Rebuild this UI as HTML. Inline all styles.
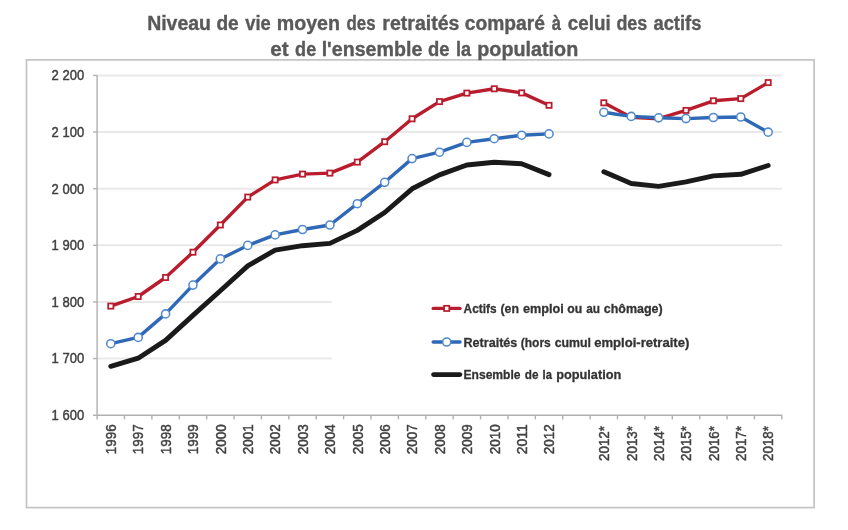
<!DOCTYPE html>
<html><head><meta charset="utf-8"><style>
html,body{margin:0;padding:0;background:#fff;width:848px;height:530px;overflow:hidden}
svg{display:block}
text{font-family:"Liberation Sans",sans-serif}
.yl{font-size:14.3px;fill:#404040;stroke:#404040;stroke-width:0.45px}
.xl{font-size:14.1px;fill:#404040;stroke:#404040;stroke-width:0.45px}
.lg{font-size:13.2px;font-weight:bold;fill:#333333;stroke:#333333;stroke-width:0.3px}
.tt{font-size:19.4px;font-weight:bold;fill:#595959;stroke:#595959;stroke-width:0.35px}
</style></head><body>
<svg width="848" height="530" viewBox="0 0 848 530"><defs><filter id="f" x="0" y="0" width="848" height="530" filterUnits="userSpaceOnUse"><feOffset dx="0" dy="0"/></filter></defs><g filter="url(#f)">
<rect x="26.5" y="59.9" width="787.6" height="447.7" fill="#fff" stroke="#c4c4c4" stroke-width="1.7"/>
<line x1="97.1" y1="75.40" x2="782" y2="75.40" stroke="#eae9e9" stroke-width="2"/>
<line x1="97.1" y1="132.03" x2="782" y2="132.03" stroke="#eae9e9" stroke-width="2"/>
<line x1="97.1" y1="188.66" x2="782" y2="188.66" stroke="#eae9e9" stroke-width="2"/>
<line x1="97.1" y1="245.29" x2="782" y2="245.29" stroke="#eae9e9" stroke-width="2"/>
<line x1="97.1" y1="301.92" x2="331.7" y2="301.92" stroke="#eae9e9" stroke-width="2"/>
<line x1="97.1" y1="358.55" x2="331.7" y2="358.55" stroke="#eae9e9" stroke-width="2"/>
<line x1="97.1" y1="75.40" x2="97.1" y2="419.38" stroke="#b0b0b0" stroke-width="1.4"/>
<line x1="93.1" y1="415.18" x2="782" y2="415.18" stroke="#b0b0b0" stroke-width="1.4"/>
<line x1="93.1" y1="75.40" x2="97.1" y2="75.40" stroke="#b0b0b0" stroke-width="1.4"/>
<line x1="93.1" y1="132.03" x2="97.1" y2="132.03" stroke="#b0b0b0" stroke-width="1.4"/>
<line x1="93.1" y1="188.66" x2="97.1" y2="188.66" stroke="#b0b0b0" stroke-width="1.4"/>
<line x1="93.1" y1="245.29" x2="97.1" y2="245.29" stroke="#b0b0b0" stroke-width="1.4"/>
<line x1="93.1" y1="301.92" x2="97.1" y2="301.92" stroke="#b0b0b0" stroke-width="1.4"/>
<line x1="93.1" y1="358.55" x2="97.1" y2="358.55" stroke="#b0b0b0" stroke-width="1.4"/>
<line x1="124.49" y1="415.18" x2="124.49" y2="419.38" stroke="#b0b0b0" stroke-width="1.4"/>
<line x1="151.88" y1="415.18" x2="151.88" y2="419.38" stroke="#b0b0b0" stroke-width="1.4"/>
<line x1="179.27" y1="415.18" x2="179.27" y2="419.38" stroke="#b0b0b0" stroke-width="1.4"/>
<line x1="206.66" y1="415.18" x2="206.66" y2="419.38" stroke="#b0b0b0" stroke-width="1.4"/>
<line x1="234.05" y1="415.18" x2="234.05" y2="419.38" stroke="#b0b0b0" stroke-width="1.4"/>
<line x1="261.44" y1="415.18" x2="261.44" y2="419.38" stroke="#b0b0b0" stroke-width="1.4"/>
<line x1="288.83" y1="415.18" x2="288.83" y2="419.38" stroke="#b0b0b0" stroke-width="1.4"/>
<line x1="316.22" y1="415.18" x2="316.22" y2="419.38" stroke="#b0b0b0" stroke-width="1.4"/>
<line x1="343.61" y1="415.18" x2="343.61" y2="419.38" stroke="#b0b0b0" stroke-width="1.4"/>
<line x1="371.00" y1="415.18" x2="371.00" y2="419.38" stroke="#b0b0b0" stroke-width="1.4"/>
<line x1="398.39" y1="415.18" x2="398.39" y2="419.38" stroke="#b0b0b0" stroke-width="1.4"/>
<line x1="425.78" y1="415.18" x2="425.78" y2="419.38" stroke="#b0b0b0" stroke-width="1.4"/>
<line x1="453.17" y1="415.18" x2="453.17" y2="419.38" stroke="#b0b0b0" stroke-width="1.4"/>
<line x1="480.56" y1="415.18" x2="480.56" y2="419.38" stroke="#b0b0b0" stroke-width="1.4"/>
<line x1="507.95" y1="415.18" x2="507.95" y2="419.38" stroke="#b0b0b0" stroke-width="1.4"/>
<line x1="535.34" y1="415.18" x2="535.34" y2="419.38" stroke="#b0b0b0" stroke-width="1.4"/>
<line x1="562.73" y1="415.18" x2="562.73" y2="419.38" stroke="#b0b0b0" stroke-width="1.4"/>
<line x1="590.12" y1="415.18" x2="590.12" y2="419.38" stroke="#b0b0b0" stroke-width="1.4"/>
<line x1="617.51" y1="415.18" x2="617.51" y2="419.38" stroke="#b0b0b0" stroke-width="1.4"/>
<line x1="644.90" y1="415.18" x2="644.90" y2="419.38" stroke="#b0b0b0" stroke-width="1.4"/>
<line x1="672.29" y1="415.18" x2="672.29" y2="419.38" stroke="#b0b0b0" stroke-width="1.4"/>
<line x1="699.68" y1="415.18" x2="699.68" y2="419.38" stroke="#b0b0b0" stroke-width="1.4"/>
<line x1="727.07" y1="415.18" x2="727.07" y2="419.38" stroke="#b0b0b0" stroke-width="1.4"/>
<line x1="754.46" y1="415.18" x2="754.46" y2="419.38" stroke="#b0b0b0" stroke-width="1.4"/>
<line x1="781.85" y1="415.18" x2="781.85" y2="419.38" stroke="#b0b0b0" stroke-width="1.4"/>
<text x="51.6" y="80.30" class="yl" textLength="32.6" lengthAdjust="spacingAndGlyphs">2 200</text>
<text x="51.6" y="136.93" class="yl" textLength="32.6" lengthAdjust="spacingAndGlyphs">2 100</text>
<text x="51.6" y="193.56" class="yl" textLength="32.6" lengthAdjust="spacingAndGlyphs">2 000</text>
<text x="51.6" y="250.19" class="yl" textLength="32.6" lengthAdjust="spacingAndGlyphs">1 900</text>
<text x="51.6" y="306.82" class="yl" textLength="32.6" lengthAdjust="spacingAndGlyphs">1 800</text>
<text x="51.6" y="363.45" class="yl" textLength="32.6" lengthAdjust="spacingAndGlyphs">1 700</text>
<text x="51.6" y="420.08" class="yl" textLength="32.6" lengthAdjust="spacingAndGlyphs">1 600</text>
<text transform="translate(116.09,424.2) rotate(-90)" text-anchor="end" class="xl" textLength="30.0" lengthAdjust="spacingAndGlyphs">1996</text>
<text transform="translate(143.49,424.2) rotate(-90)" text-anchor="end" class="xl" textLength="30.0" lengthAdjust="spacingAndGlyphs">1997</text>
<text transform="translate(170.88,424.2) rotate(-90)" text-anchor="end" class="xl" textLength="30.0" lengthAdjust="spacingAndGlyphs">1998</text>
<text transform="translate(198.27,424.2) rotate(-90)" text-anchor="end" class="xl" textLength="30.0" lengthAdjust="spacingAndGlyphs">1999</text>
<text transform="translate(225.66,424.2) rotate(-90)" text-anchor="end" class="xl" textLength="30.0" lengthAdjust="spacingAndGlyphs">2000</text>
<text transform="translate(253.05,424.2) rotate(-90)" text-anchor="end" class="xl" textLength="30.0" lengthAdjust="spacingAndGlyphs">2001</text>
<text transform="translate(280.44,424.2) rotate(-90)" text-anchor="end" class="xl" textLength="30.0" lengthAdjust="spacingAndGlyphs">2002</text>
<text transform="translate(307.82,424.2) rotate(-90)" text-anchor="end" class="xl" textLength="30.0" lengthAdjust="spacingAndGlyphs">2003</text>
<text transform="translate(335.21,424.2) rotate(-90)" text-anchor="end" class="xl" textLength="30.0" lengthAdjust="spacingAndGlyphs">2004</text>
<text transform="translate(362.60,424.2) rotate(-90)" text-anchor="end" class="xl" textLength="30.0" lengthAdjust="spacingAndGlyphs">2005</text>
<text transform="translate(390.00,424.2) rotate(-90)" text-anchor="end" class="xl" textLength="30.0" lengthAdjust="spacingAndGlyphs">2006</text>
<text transform="translate(417.39,424.2) rotate(-90)" text-anchor="end" class="xl" textLength="30.0" lengthAdjust="spacingAndGlyphs">2007</text>
<text transform="translate(444.78,424.2) rotate(-90)" text-anchor="end" class="xl" textLength="30.0" lengthAdjust="spacingAndGlyphs">2008</text>
<text transform="translate(472.17,424.2) rotate(-90)" text-anchor="end" class="xl" textLength="30.0" lengthAdjust="spacingAndGlyphs">2009</text>
<text transform="translate(499.56,424.2) rotate(-90)" text-anchor="end" class="xl" textLength="30.0" lengthAdjust="spacingAndGlyphs">2010</text>
<text transform="translate(526.94,424.2) rotate(-90)" text-anchor="end" class="xl" textLength="30.0" lengthAdjust="spacingAndGlyphs">2011</text>
<text transform="translate(554.33,424.2) rotate(-90)" text-anchor="end" class="xl" textLength="30.0" lengthAdjust="spacingAndGlyphs">2012</text>
<text transform="translate(609.12,426.0) rotate(-90)" text-anchor="end" class="xl" textLength="35.0" lengthAdjust="spacingAndGlyphs">2012*</text>
<text transform="translate(636.50,426.0) rotate(-90)" text-anchor="end" class="xl" textLength="35.0" lengthAdjust="spacingAndGlyphs">2013*</text>
<text transform="translate(663.89,426.0) rotate(-90)" text-anchor="end" class="xl" textLength="35.0" lengthAdjust="spacingAndGlyphs">2014*</text>
<text transform="translate(691.28,426.0) rotate(-90)" text-anchor="end" class="xl" textLength="35.0" lengthAdjust="spacingAndGlyphs">2015*</text>
<text transform="translate(718.67,426.0) rotate(-90)" text-anchor="end" class="xl" textLength="35.0" lengthAdjust="spacingAndGlyphs">2016*</text>
<text transform="translate(746.06,426.0) rotate(-90)" text-anchor="end" class="xl" textLength="35.0" lengthAdjust="spacingAndGlyphs">2017*</text>
<text transform="translate(773.46,426.0) rotate(-90)" text-anchor="end" class="xl" textLength="35.0" lengthAdjust="spacingAndGlyphs">2018*</text>
<polyline points="110.79,306.10 138.19,296.50 165.57,277.50 192.97,252.20 220.35,225.00 247.75,197.10 275.13,179.90 302.52,174.10 329.91,173.10 357.30,162.10 384.70,141.70 412.09,118.80 439.48,101.60 466.87,93.10 494.25,88.80 521.64,92.90 549.03,105.30" fill="none" stroke="#b81c2d" stroke-width="3.4" stroke-linejoin="round" stroke-linecap="round"/>
<polyline points="603.82,102.80 631.21,117.20 658.60,118.70 685.99,110.40 713.38,100.80 740.76,98.60 768.16,82.60" fill="none" stroke="#b81c2d" stroke-width="3.4" stroke-linejoin="round" stroke-linecap="round"/>
<rect x="108.19" y="303.50" width="5.2" height="5.2" fill="#fff" stroke="#b81c2d" stroke-width="1.75"/>
<rect x="135.59" y="293.90" width="5.2" height="5.2" fill="#fff" stroke="#b81c2d" stroke-width="1.75"/>
<rect x="162.97" y="274.90" width="5.2" height="5.2" fill="#fff" stroke="#b81c2d" stroke-width="1.75"/>
<rect x="190.37" y="249.60" width="5.2" height="5.2" fill="#fff" stroke="#b81c2d" stroke-width="1.75"/>
<rect x="217.75" y="222.40" width="5.2" height="5.2" fill="#fff" stroke="#b81c2d" stroke-width="1.75"/>
<rect x="245.15" y="194.50" width="5.2" height="5.2" fill="#fff" stroke="#b81c2d" stroke-width="1.75"/>
<rect x="272.53" y="177.30" width="5.2" height="5.2" fill="#fff" stroke="#b81c2d" stroke-width="1.75"/>
<rect x="299.92" y="171.50" width="5.2" height="5.2" fill="#fff" stroke="#b81c2d" stroke-width="1.75"/>
<rect x="327.31" y="170.50" width="5.2" height="5.2" fill="#fff" stroke="#b81c2d" stroke-width="1.75"/>
<rect x="354.70" y="159.50" width="5.2" height="5.2" fill="#fff" stroke="#b81c2d" stroke-width="1.75"/>
<rect x="382.10" y="139.10" width="5.2" height="5.2" fill="#fff" stroke="#b81c2d" stroke-width="1.75"/>
<rect x="409.49" y="116.20" width="5.2" height="5.2" fill="#fff" stroke="#b81c2d" stroke-width="1.75"/>
<rect x="436.88" y="99.00" width="5.2" height="5.2" fill="#fff" stroke="#b81c2d" stroke-width="1.75"/>
<rect x="464.26" y="90.50" width="5.2" height="5.2" fill="#fff" stroke="#b81c2d" stroke-width="1.75"/>
<rect x="491.65" y="86.20" width="5.2" height="5.2" fill="#fff" stroke="#b81c2d" stroke-width="1.75"/>
<rect x="519.04" y="90.30" width="5.2" height="5.2" fill="#fff" stroke="#b81c2d" stroke-width="1.75"/>
<rect x="546.43" y="102.70" width="5.2" height="5.2" fill="#fff" stroke="#b81c2d" stroke-width="1.75"/>
<rect x="601.22" y="100.20" width="5.2" height="5.2" fill="#fff" stroke="#b81c2d" stroke-width="1.75"/>
<rect x="683.38" y="107.80" width="5.2" height="5.2" fill="#fff" stroke="#b81c2d" stroke-width="1.75"/>
<rect x="710.77" y="98.20" width="5.2" height="5.2" fill="#fff" stroke="#b81c2d" stroke-width="1.75"/>
<rect x="738.16" y="96.00" width="5.2" height="5.2" fill="#fff" stroke="#b81c2d" stroke-width="1.75"/>
<rect x="765.56" y="80.00" width="5.2" height="5.2" fill="#fff" stroke="#b81c2d" stroke-width="1.75"/>
<polyline points="110.79,343.70 138.19,337.40 165.57,313.90 192.97,285.10 220.35,258.90 247.75,245.40 275.13,234.90 302.52,229.50 329.91,225.00 357.30,203.70 384.70,182.30 412.09,158.60 439.48,152.20 466.87,142.40 494.25,138.70 521.64,135.20 549.03,133.90" fill="none" stroke="#2e68b6" stroke-width="3.4" stroke-linejoin="round" stroke-linecap="round"/>
<polyline points="603.82,112.30 631.21,116.40 658.60,117.80 685.99,118.60 713.38,117.50 740.76,117.00 768.16,132.20" fill="none" stroke="#2e68b6" stroke-width="3.4" stroke-linejoin="round" stroke-linecap="round"/>
<circle cx="110.79" cy="343.70" r="4.05" fill="#fff" stroke="#5289cd" stroke-width="1.55"/>
<circle cx="138.19" cy="337.40" r="4.05" fill="#fff" stroke="#5289cd" stroke-width="1.55"/>
<circle cx="165.57" cy="313.90" r="4.05" fill="#fff" stroke="#5289cd" stroke-width="1.55"/>
<circle cx="192.97" cy="285.10" r="4.05" fill="#fff" stroke="#5289cd" stroke-width="1.55"/>
<circle cx="220.35" cy="258.90" r="4.05" fill="#fff" stroke="#5289cd" stroke-width="1.55"/>
<circle cx="247.75" cy="245.40" r="4.05" fill="#fff" stroke="#5289cd" stroke-width="1.55"/>
<circle cx="275.13" cy="234.90" r="4.05" fill="#fff" stroke="#5289cd" stroke-width="1.55"/>
<circle cx="302.52" cy="229.50" r="4.05" fill="#fff" stroke="#5289cd" stroke-width="1.55"/>
<circle cx="329.91" cy="225.00" r="4.05" fill="#fff" stroke="#5289cd" stroke-width="1.55"/>
<circle cx="357.30" cy="203.70" r="4.05" fill="#fff" stroke="#5289cd" stroke-width="1.55"/>
<circle cx="384.70" cy="182.30" r="4.05" fill="#fff" stroke="#5289cd" stroke-width="1.55"/>
<circle cx="412.09" cy="158.60" r="4.05" fill="#fff" stroke="#5289cd" stroke-width="1.55"/>
<circle cx="439.48" cy="152.20" r="4.05" fill="#fff" stroke="#5289cd" stroke-width="1.55"/>
<circle cx="466.87" cy="142.40" r="4.05" fill="#fff" stroke="#5289cd" stroke-width="1.55"/>
<circle cx="494.25" cy="138.70" r="4.05" fill="#fff" stroke="#5289cd" stroke-width="1.55"/>
<circle cx="521.64" cy="135.20" r="4.05" fill="#fff" stroke="#5289cd" stroke-width="1.55"/>
<circle cx="549.03" cy="133.90" r="4.05" fill="#fff" stroke="#5289cd" stroke-width="1.55"/>
<circle cx="603.82" cy="112.30" r="4.05" fill="#fff" stroke="#5289cd" stroke-width="1.55"/>
<circle cx="631.21" cy="116.40" r="4.05" fill="#fff" stroke="#5289cd" stroke-width="1.55"/>
<circle cx="658.60" cy="117.80" r="4.05" fill="#fff" stroke="#5289cd" stroke-width="1.55"/>
<circle cx="685.99" cy="118.60" r="4.05" fill="#fff" stroke="#5289cd" stroke-width="1.55"/>
<circle cx="713.38" cy="117.50" r="4.05" fill="#fff" stroke="#5289cd" stroke-width="1.55"/>
<circle cx="740.76" cy="117.00" r="4.05" fill="#fff" stroke="#5289cd" stroke-width="1.55"/>
<circle cx="768.16" cy="132.20" r="4.05" fill="#fff" stroke="#5289cd" stroke-width="1.55"/>
<polyline points="110.79,366.30 138.19,358.20 165.57,340.40 192.97,315.40 220.35,290.70 247.75,265.90 275.13,250.20 302.52,245.70 329.91,243.40 357.30,230.40 384.70,212.50 412.09,188.80 439.48,174.90 466.87,165.00 494.25,162.20 521.64,163.70 549.03,174.60" fill="none" stroke="#1a1a1a" stroke-width="4.9" stroke-linejoin="round" stroke-linecap="round"/>
<polyline points="603.82,171.70 631.21,183.50 658.60,186.40 685.99,181.90 713.38,175.90 740.76,174.30 768.16,165.50" fill="none" stroke="#1a1a1a" stroke-width="4.9" stroke-linejoin="round" stroke-linecap="round"/>
<rect x="332" y="285" width="450" height="110" fill="#fff"/>
<line x1="433.2" y1="308.4" x2="460.0" y2="308.4" stroke="#b81c2d" stroke-width="3.4" stroke-linecap="round"/>
<line x1="433.2" y1="342.0" x2="460.0" y2="342.0" stroke="#2e68b6" stroke-width="3.4" stroke-linecap="round"/>
<line x1="433.6" y1="374.6" x2="459.8" y2="374.6" stroke="#1a1a1a" stroke-width="4.9" stroke-linecap="round"/>
<rect x="444.10" y="305.80" width="5.2" height="5.2" fill="#fff" stroke="#b81c2d" stroke-width="1.75"/>
<circle cx="446.7" cy="342.0" r="4.05" fill="#fff" stroke="#5289cd" stroke-width="1.55"/>
<text x="463.59" y="313.1" class="lg" textLength="32.89" lengthAdjust="spacingAndGlyphs">Actifs</text>
<text x="500.43" y="313.1" class="lg" textLength="18.5" lengthAdjust="spacingAndGlyphs">(en</text>
<text x="522.94" y="313.1" class="lg" textLength="40.82" lengthAdjust="spacingAndGlyphs">emploi</text>
<text x="567.35" y="313.1" class="lg" textLength="14.94" lengthAdjust="spacingAndGlyphs">ou</text>
<text x="586.28" y="313.1" class="lg" textLength="13.81" lengthAdjust="spacingAndGlyphs">au</text>
<text x="603.85" y="313.1" class="lg" textLength="58.8" lengthAdjust="spacingAndGlyphs">chômage)</text>
<text x="463.48" y="346.6" class="lg" textLength="53.86" lengthAdjust="spacingAndGlyphs">Retraités</text>
<text x="520.75" y="346.6" class="lg" textLength="29.99" lengthAdjust="spacingAndGlyphs">(hors</text>
<text x="554.65" y="346.6" class="lg" textLength="36.35" lengthAdjust="spacingAndGlyphs">cumul</text>
<text x="594.23" y="346.6" class="lg" textLength="95.02" lengthAdjust="spacingAndGlyphs">emploi-retraite)</text>
<text x="463.51" y="379.1" class="lg" textLength="57.01" lengthAdjust="spacingAndGlyphs">Ensemble</text>
<text x="524.87" y="379.1" class="lg" textLength="13.68" lengthAdjust="spacingAndGlyphs">de</text>
<text x="542.56" y="379.1" class="lg" textLength="9.33" lengthAdjust="spacingAndGlyphs">la</text>
<text x="556.28" y="379.1" class="lg" textLength="64.99" lengthAdjust="spacingAndGlyphs">population</text>
<text x="147.17" y="29.7" class="tt" textLength="63.85" lengthAdjust="spacingAndGlyphs">Niveau</text>
<text x="216.38" y="29.7" class="tt" textLength="22.32" lengthAdjust="spacingAndGlyphs">de</text>
<text x="245.22" y="29.7" class="tt" textLength="25.52" lengthAdjust="spacingAndGlyphs">vie</text>
<text x="276.66" y="29.7" class="tt" textLength="63.38" lengthAdjust="spacingAndGlyphs">moyen</text>
<text x="346.56" y="29.7" class="tt" textLength="29.03" lengthAdjust="spacingAndGlyphs">des</text>
<text x="382.27" y="29.7" class="tt" textLength="77.2" lengthAdjust="spacingAndGlyphs">retraités</text>
<text x="464.78" y="29.7" class="tt" textLength="80.2" lengthAdjust="spacingAndGlyphs">comparé</text>
<text x="551.79" y="29.7" class="tt" textLength="9.23" lengthAdjust="spacingAndGlyphs">à</text>
<text x="567.79" y="29.7" class="tt" textLength="42.88" lengthAdjust="spacingAndGlyphs">celui</text>
<text x="616.42" y="29.7" class="tt" textLength="30.9" lengthAdjust="spacingAndGlyphs">des</text>
<text x="653.44" y="29.7" class="tt" textLength="48.0" lengthAdjust="spacingAndGlyphs">actifs</text>
<text x="270.23" y="55.7" class="tt" textLength="18.37" lengthAdjust="spacingAndGlyphs">et</text>
<text x="295.12" y="55.7" class="tt" textLength="21.06" lengthAdjust="spacingAndGlyphs">de</text>
<text x="321.66" y="55.7" class="tt" textLength="100.64" lengthAdjust="spacingAndGlyphs">l&#39;ensemble</text>
<text x="427.91" y="55.7" class="tt" textLength="21.48" lengthAdjust="spacingAndGlyphs">de</text>
<text x="455.95" y="55.7" class="tt" textLength="15.05" lengthAdjust="spacingAndGlyphs">la</text>
<text x="477.25" y="55.7" class="tt" textLength="100.96" lengthAdjust="spacingAndGlyphs">population</text>
</g></svg>
</body></html>
